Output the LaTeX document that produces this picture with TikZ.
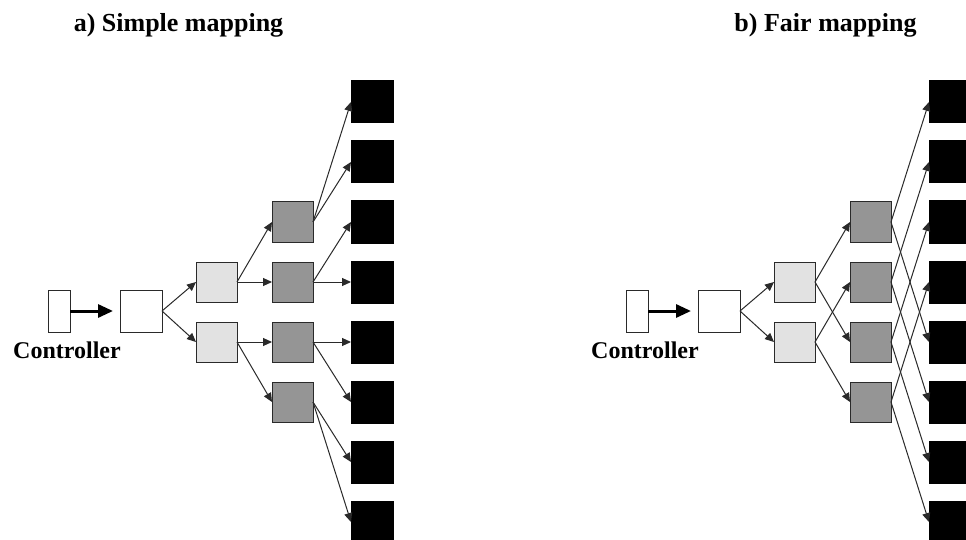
\documentclass[tikz,border=0pt]{standalone}
\usepackage{fontspec}
\setmainfont{Liberation Serif}
\usetikzlibrary{arrows.meta}
\definecolor{lightgr}{HTML}{E2E2E2}
\definecolor{darkgr}{HTML}{959595}
\definecolor{edgegr}{HTML}{2A2A2A}
\begin{document}
\begin{tikzpicture}[x=1pt,y=-1pt,
 box/.style={draw=edgegr, line width=1pt, minimum width=41pt, minimum height=40pt, inner sep=0pt, outer sep=0pt},
 ctrlbox/.style={box, minimum width=22pt, minimum height=42pt, fill=white},
 rootbox/.style={box, minimum width=42pt, minimum height=42pt, fill=white},
 lightbox/.style={box, fill=lightgr},
 darkbox/.style={box, fill=darkgr},
 blackbox/.style={box, draw=black, fill=black, minimum width=42pt, minimum height=42pt},
 link/.style={line width=1pt, draw=edgegr, -{Triangle[length=9pt,width=8pt]}},
 bigarrow/.style={line width=3pt, -{Triangle[length=15pt,width=13pt]}},
 titletext/.style={font=\fontsize{26}{30}\selectfont\bfseries},
 ctrltext/.style={font=\fontsize{24}{28}\selectfont\bfseries}
]
\path[use as bounding box] (0,0) rectangle (966,540);
\clip (0,0) rectangle (966,540);
\fill[white] (0,0) rectangle (966,540);

% ---------- a) Simple mapping ----------
\node[titletext] (a-title) at (178.5,25) {a) Simple mapping};
\node[ctrlbox] (a-ctrl) at (59,311) {};
\node[rootbox] (a-root) at (141,311) {};
\node[lightbox] (a-l1) at (216.5,282) {};
\node[lightbox] (a-l2) at (216.5,342) {};
\foreach \i/\y in {1/222,2/282,3/342,4/402} \node[darkbox] (a-d\i) at (292.5,\y) {};
\foreach \i in {1,...,8} \node[blackbox] (a-b\i) at (372,{42+60*\i}) {};
\node[ctrltext] (a-ctext) at (67,350) {Controller};
\draw[bigarrow] (a-ctrl.east) -- ([xshift=-7pt]a-root.west);
\draw[link] (a-root.east) -- (a-l1.west);
\draw[link] (a-root.east) -- (a-l2.west);
\draw[link] (a-l1.east) -- (a-d1.west);
\draw[link] (a-l1.east) -- (a-d2.west);
\draw[link] (a-l2.east) -- (a-d3.west);
\draw[link] (a-l2.east) -- (a-d4.west);
\draw[link] (a-d1.east) -- (a-b1.west);
\draw[link] (a-d1.east) -- (a-b2.west);
\draw[link] (a-d2.east) -- (a-b3.west);
\draw[link] (a-d2.east) -- (a-b4.west);
\draw[link] (a-d3.east) -- (a-b5.west);
\draw[link] (a-d3.east) -- (a-b6.west);
\draw[link] (a-d4.east) -- (a-b7.west);
\draw[link] (a-d4.east) -- (a-b8.west);

% ---------- b) Fair mapping ----------
\node[titletext] (b-title) at (825.5,25) {b) Fair mapping};
\begin{scope}[shift={(578,0)}]
\node[ctrlbox] (b-ctrl) at (59,311) {};
\node[rootbox] (b-root) at (141,311) {};
\node[lightbox] (b-l1) at (216.5,282) {};
\node[lightbox] (b-l2) at (216.5,342) {};
\foreach \i/\y in {1/222,2/282,3/342,4/402} \node[darkbox] (b-d\i) at (292.5,\y) {};
\foreach \i in {1,...,8} \node[blackbox] (b-b\i) at (372,{42+60*\i}) {};
\node[ctrltext] (b-ctext) at (67,350) {Controller};
\end{scope}
\draw[bigarrow] (b-ctrl.east) -- ([xshift=-7pt]b-root.west);
\draw[link] (b-root.east) -- (b-l1.west);
\draw[link] (b-root.east) -- (b-l2.west);
\draw[link] (b-l1.east) -- (b-d1.west);
\draw[link] (b-l1.east) -- (b-d3.west);
\draw[link] (b-l2.east) -- (b-d2.west);
\draw[link] (b-l2.east) -- (b-d4.west);
\draw[link] (b-d1.east) -- (b-b1.west);
\draw[link] (b-d1.east) -- (b-b5.west);
\draw[link] (b-d2.east) -- (b-b2.west);
\draw[link] (b-d2.east) -- (b-b6.west);
\draw[link] (b-d3.east) -- (b-b3.west);
\draw[link] (b-d3.east) -- (b-b7.west);
\draw[link] (b-d4.east) -- (b-b4.west);
\draw[link] (b-d4.east) -- (b-b8.west);
\end{tikzpicture}
\end{document}
